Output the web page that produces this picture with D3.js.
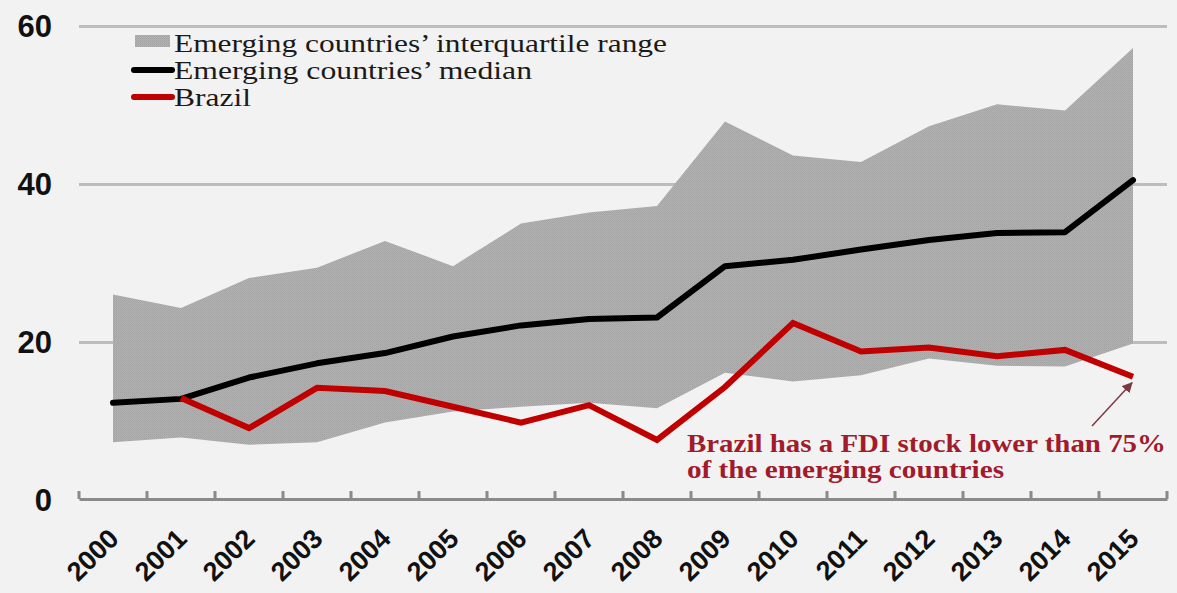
<!DOCTYPE html>
<html>
<head>
<meta charset="utf-8">
<script src="https://cdn.jsdelivr.net/npm/d3@7"></script>
<style>
  html, body { margin: 0; padding: 0; background: #f2f2f2; }
  svg { display: block; }
</style>
</head>
<body>
<svg id="chart" width="1177" height="593"></svg>
<script>
const years = ["2000","2001","2002","2003","2004","2005","2006","2007","2008","2009","2010","2011","2012","2013","2014","2015"];
const upperQuartile = [26.0, 24.3, 28.1, 29.4, 32.8, 29.6, 35.0, 36.4, 37.2, 47.9, 43.6, 42.8, 47.3, 50.1, 49.3, 57.2];
const lowerQuartile = [7.3, 7.9, 7.0, 7.3, 9.8, 11.2, 11.8, 12.3, 11.6, 16.1, 15.0, 15.8, 17.9, 17.0, 16.9, 19.8];
const medianValues = [12.3, 12.8, 15.5, 17.3, 18.6, 20.7, 22.1, 22.9, 23.1, 29.6, 30.4, 31.7, 32.9, 33.8, 33.9, 40.5];
const brazilValues = [null, 12.9, 9.1, 14.2, 13.8, 11.8, 9.8, 12.0, 7.6, 14.3, 22.4, 18.8, 19.3, 18.2, 19.0, 15.6];
const yTicks = [0, 20, 40, 60];
const legendLabels = ["Emerging countries’ interquartile range", "Emerging countries’ median", "Brazil"];
const annotationLines = ["Brazil has a FDI stock lower than 75%", "of the emerging countries"];

const svg = d3.select("#chart");
svg.append("rect").attr("width", 1177).attr("height", 593).attr("fill", "#f2f2f2");

const x = d3.scaleBand().domain(years).range([79, 1167]).paddingInner(0).paddingOuter(0);
const cx = d => x(d) + x.bandwidth() / 2;
const y = d3.scaleLinear().domain([0, 60]).range([500, 26]);

// texture pattern for the band
const defs = svg.append("defs");
const pat = defs.append("pattern").attr("id", "dots").attr("width", 2).attr("height", 2).attr("patternUnits", "userSpaceOnUse");
pat.append("rect").attr("width", 2).attr("height", 2).attr("fill", "#b2b2b2");
pat.append("rect").attr("width", 1).attr("height", 1).attr("fill", "#a2a2a2");
pat.append("rect").attr("x", 1).attr("y", 1).attr("width", 1).attr("height", 1).attr("fill", "#a8a8a8");

defs.append("marker").attr("id", "arrow").attr("viewBox", "0 0 10 10").attr("refX", 9).attr("refY", 5)
  .attr("markerWidth", 7).attr("markerHeight", 7).attr("orient", "auto-start-reverse")
  .append("path").attr("d", "M0,0 L10,5 L0,10 z").attr("fill", "#7a3a40");

// gridlines
const yAxis = d3.axisLeft(y).tickValues(yTicks.filter(v => v > 0)).tickSize(-(1167 - 79)).tickFormat("");
const gGrid = svg.append("g").attr("transform", "translate(79,0)").call(yAxis);
gGrid.select(".domain").remove();
gGrid.selectAll("line").attr("stroke", "#bdbdbd").attr("stroke-width", 3);

// y labels
svg.append("g").selectAll("text").data(yTicks).join("text")
  .attr("x", 52).attr("y", d => y(d)).attr("dy", "0.36em")
  .attr("text-anchor", "end")
  .attr("font-family", "Liberation Sans, Arial, sans-serif").attr("font-weight", "bold")
  .attr("font-size", 31).attr("fill", "#111")
  .text(d => d);

// band area
const idx = d3.range(years.length);
const area = d3.area().x(i => cx(years[i])).y0(i => y(lowerQuartile[i])).y1(i => y(upperQuartile[i]));
svg.append("path").datum(idx).attr("d", area).attr("fill", "url(#dots)");

// x axis
const xAxis = d3.axisBottom(x).tickValues([]).tickSizeOuter(0);
const gx = svg.append("g").attr("transform", "translate(0,499)").call(xAxis);
gx.select(".domain").attr("stroke", "#8a8a8a").attr("stroke-width", 3);
const boundaries = years.map(d => x(d)).concat([x(years[years.length - 1]) + x.bandwidth()]);
svg.append("g").selectAll("line").data(boundaries).join("line")
  .attr("x1", d => d).attr("x2", d => d).attr("y1", 491).attr("y2", 499)
  .attr("stroke", "#8a8a8a").attr("stroke-width", 3);

svg.append("g").selectAll("text").data(years).join("text")
  .attr("transform", d => `translate(${cx(d) - 6},${527}) rotate(-45)`)
  .attr("text-anchor", "end").attr("dy", "0.7em")
  .attr("font-family", "Liberation Sans, Arial, sans-serif").attr("font-weight", "bold")
  .attr("font-size", 27).attr("fill", "#111")
  .text(d => d);

// lines
const line = vals => d3.line().defined(i => vals[i] != null).x(i => cx(years[i])).y(i => y(vals[i]));
svg.append("path").datum(idx).attr("d", line(medianValues)).attr("fill", "none")
  .attr("stroke", "#000").attr("stroke-width", 6).attr("stroke-linejoin", "round").attr("stroke-linecap", "round");
svg.append("path").datum(idx).attr("d", line(brazilValues)).attr("fill", "none")
  .attr("stroke", "#c00000").attr("stroke-width", 6).attr("stroke-linejoin", "miter").attr("stroke-linecap", "butt");

// legend
const lg = svg.append("g");
const rows = [52, 79, 106];
lg.append("rect").attr("x", 135).attr("y", 35).attr("width", 35).attr("height", 12).attr("fill", "url(#dots)");
lg.append("line").attr("x1", 134).attr("x2", 172).attr("y1", 70).attr("y2", 70).attr("stroke", "#000").attr("stroke-width", 6).attr("stroke-linecap", "round");
lg.append("line").attr("x1", 134).attr("x2", 172).attr("y1", 97).attr("y2", 97).attr("stroke", "#c00000").attr("stroke-width", 6).attr("stroke-linecap", "round");
const legendWidths = [493, 358, 77];
lg.selectAll("text").data(legendLabels).join("text")
  .attr("x", 174).attr("y", (d, i) => rows[i])
  .attr("font-family", "Liberation Serif, Times New Roman, serif").attr("font-size", 25).attr("fill", "#1a1a1a")
  .attr("textLength", (d, i) => legendWidths[i]).attr("lengthAdjust", "spacingAndGlyphs")
  .text(d => d);

// annotation
const annWidths = [479, 317];
svg.append("g").selectAll("text").data(annotationLines).join("text")
  .attr("x", 687).attr("y", (d, i) => 452 + i * 26)
  .attr("font-family", "Liberation Serif, Times New Roman, serif").attr("font-weight", "bold")
  .attr("font-size", 25).attr("fill", "#a11b2c")
  .attr("textLength", (d, i) => annWidths[i]).attr("lengthAdjust", "spacingAndGlyphs")
  .text(d => d);

svg.append("line").attr("x1", 1092).attr("y1", 426).attr("x2", cx("2015") - 1).attr("y2", y(brazilValues[15]) + 6)
  .attr("stroke", "#7a3a40").attr("stroke-width", 1.5).attr("marker-end", "url(#arrow)");
</script>
</body>
</html>
